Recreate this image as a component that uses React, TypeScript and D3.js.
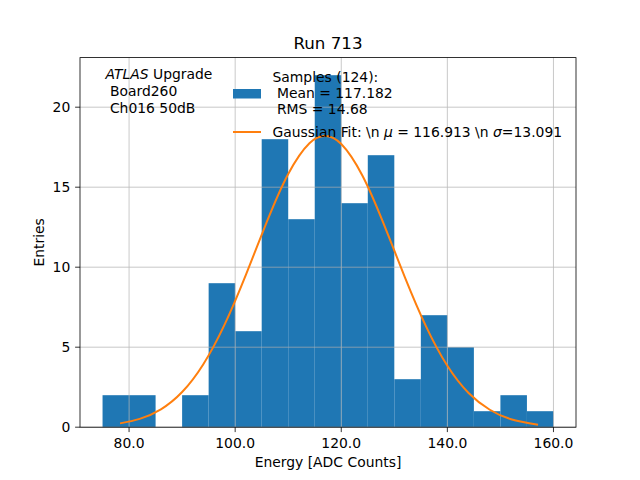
import * as d3 from "d3";

// histogram bins (left edges, width 5) and counts
const binEdges = [75, 80, 85, 90, 95, 100, 105, 110, 115, 120, 125, 130, 135, 140, 145, 150, 155, 160];
const counts = [2, 2, 0, 2, 9, 6, 18, 13, 22, 14, 17, 3, 7, 5, 1, 2, 1];

// gaussian fit curve
const fitX = [78.3, 82, 86, 90, 94, 98, 102, 106, 110, 114, 117, 120, 124, 128, 132, 136, 140, 144, 148, 152, 157.1];
const fitY = [0.24, 0.52, 1.12, 2.2, 3.94, 6.41, 9.51, 12.86, 15.83, 17.75, 18.2, 17.7, 15.72, 12.71, 9.37, 6.29, 3.84, 2.14, 1.09, 0.5, 0.16];

const xTicks = [80, 100, 120, 140, 160];
const yTicks = [0, 5, 10, 15, 20];

const W = 640;
const H = 480;
const mL = 80;
const mR = 576;
const mT = 57.6;
const mB = 427.2;
const font = "DejaVu Sans, sans-serif";
const sp = "\u00a0";

export default function App() {
  const x = d3.scaleLinear().domain([70.75, 164.25]).range([mL, mR]);
  const y = d3.scaleLinear().domain([0, 23.1]).range([mB, mT]);

  const line = d3
    .line<number>((_, i) => x(fitX[i]), (d) => y(d))
    .curve(d3.curveNatural);

  return (
    <svg
      width={W}
      height={H}
      style={{ position: "absolute", left: 0, top: 0, background: "white" }}
      fontFamily={font}
    >
      <rect width={W} height={H} fill="white" />
      {/* bars */}
      <g fill="#1f77b4">
        {counts.map((c, i) =>
          c > 0 ? (
            <rect
              key={i}
              x={x(binEdges[i])}
              y={y(c)}
              width={x(binEdges[i + 1]) - x(binEdges[i])}
              height={mB - y(c)}
            />
          ) : null
        )}
      </g>
      {/* grid */}
      <g stroke="#b0b0b0" strokeWidth={0.8} opacity={0.85}>
        {xTicks.map((t) => (
          <line key={"gx" + t} x1={x(t)} x2={x(t)} y1={mT} y2={mB} />
        ))}
        {yTicks.map((t) => (
          <line key={"gy" + t} x1={mL} x2={mR} y1={y(t)} y2={y(t)} />
        ))}
      </g>
      {/* fit */}
      <path d={line(fitY) || undefined} fill="none" stroke="#ff7f0e" strokeWidth={2} />
      {/* frame */}
      <rect x={mL} y={mT} width={mR - mL} height={mB - mT} fill="none" stroke="black" strokeWidth={0.8} />
      {/* axes */}
      <g fontSize={13.9} fill="#000">
        {xTicks.map((t) => (
          <g key={"xt" + t}>
            <line x1={x(t)} x2={x(t)} y1={mB} y2={mB + 4.9} stroke="black" strokeWidth={0.8} />
            <text x={x(t)} y={mB + 20.5} textAnchor="middle">
              {t.toFixed(1)}
            </text>
          </g>
        ))}
        {yTicks.map((t) => (
          <g key={"yt" + t}>
            <line x1={mL - 4.9} x2={mL} y1={y(t)} y2={y(t)} stroke="black" strokeWidth={0.8} />
            <text x={mL - 9.7} y={y(t) + 5} textAnchor="end">
              {t}
            </text>
          </g>
        ))}
        <text x={(mL + mR) / 2} y={467} textAnchor="middle">
          Energy [ADC Counts]
        </text>
        <text transform={`translate(44,${(mT + mB) / 2}) rotate(-90)`} textAnchor="middle">
          Entries
        </text>
      </g>
      {/* title */}
      <text x={(mL + mR) / 2} y={49} textAnchor="middle" fontSize={16.7}>
        Run 713
      </text>
      {/* annotation */}
      <g fontSize={13.9}>
        <text x={105.5} y={79.3}>
          <tspan fontStyle="italic">ATLAS</tspan>
          <tspan>{sp + "Upgrade"}</tspan>
        </text>
        <text x={105.5} y={96}>{sp + "Board260"}</text>
        <text x={105.5} y={112.5}>{sp + "Ch016 50dB"}</text>
      </g>
      {/* legend */}
      <g fontSize={13.9}>
        <rect x={233} y={89} width={28} height={9.5} fill="#1f77b4" />
        <text x={272.5} y={81.5}>Samples (124):</text>
        <text x={272.5} y={97.5}>{sp + "Mean = 117.182"}</text>
        <text x={272.5} y={114}>{sp + "RMS = 14.68"}</text>
        <line x1={233} x2={261} y1={132} y2={132} stroke="#ff7f0e" strokeWidth={2} />
        <text x={272.5} y={136.5}>
          <tspan>{"Gaussian Fit: \\n" + sp}</tspan>
          <tspan fontStyle="italic">μ</tspan>
          <tspan>{sp + "= 116.913 \\n" + sp}</tspan>
          <tspan fontStyle="italic">σ</tspan>
          <tspan>=13.091</tspan>
        </text>
      </g>
    </svg>
  );
}
